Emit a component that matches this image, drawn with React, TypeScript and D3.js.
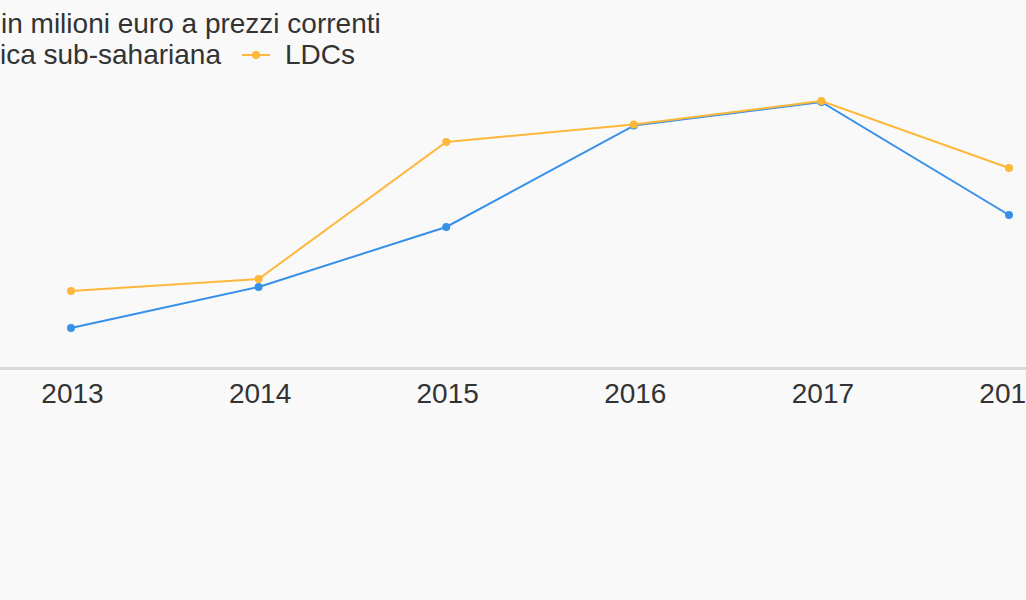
import React from "react";
import * as d3 from "d3";

const years = [2013, 2014, 2015, 2016, 2017, 2018];
const africaValues = [200, 405, 705, 1212, 1330, 765];
const ldcValues = [385, 445, 1130, 1218, 1335, 1000];
const seriesNames = ["Africa sub-sahariana", "LDCs"];
const seriesColors = ["#3790e8", "#fdb83c"];
const title = "in milioni euro a prezzi correnti";

const W = 1026;
const H = 600;

export default function App() {
  const x = d3.scaleLinear().domain([2013, 2018]).range([71, 1009]);
  const y = d3.scaleLinear().domain([0, 1500]).range([368, 68]);
  const line = d3
    .line<number>()
    .x((_, i) => x(years[i]))
    .y((d) => y(d));
  const series = [africaValues, ldcValues];
  const font = "'Liberation Sans', Arial, sans-serif";

  // legend layout
  const legendY = 55;
  const ldcLineX = 242;
  const africaTextEnd = 221;

  return (
    <div style={{ position: "fixed", left: 0, top: 0, width: W, height: H, background: "#f9f9f9" }}>
      <svg width={W} height={H} style={{ display: "block" }} fontFamily={font}>
        <rect width={W} height={H} fill="#f9f9f9" />
        <text x={1} y={33} fontSize={28} fill="#333">
          {title}
        </text>
        {/* legend */}
        <g>
          <line x1={africaTextEnd - 257 - 43} x2={africaTextEnd - 257 - 15} y1={legendY} y2={legendY} stroke={seriesColors[0]} strokeWidth={2} />
          <circle cx={africaTextEnd - 257 - 29} cy={legendY} r={4} fill={seriesColors[0]} />
          <text x={africaTextEnd} y={64} fontSize={28} fill="#333" textAnchor="end">
            {seriesNames[0]}
          </text>
          <line x1={ldcLineX} x2={ldcLineX + 28} y1={legendY} y2={legendY} stroke={seriesColors[1]} strokeWidth={2} />
          <circle cx={ldcLineX + 14} cy={legendY} r={4} fill={seriesColors[1]} />
          <text x={ldcLineX + 43} y={64} fontSize={28} fill="#333">
            {seriesNames[1]}
          </text>
        </g>
        {/* axis */}
        <line x1={0} x2={W} y1={y(0) + 0.5} y2={y(0) + 0.5} stroke="#d9d9d9" strokeWidth={3} />
        {years.map((yr) => (
          <text key={yr} x={x(yr) + 1.5} y={403} fontSize={28} fill="#333" textAnchor="middle">
            {yr}
          </text>
        ))}
        {/* series */}
        {series.map((vals, si) => (
          <g key={si}>
            <path d={line(vals) || ""} fill="none" stroke={seriesColors[si]} strokeWidth={2} />
            {vals.map((v, i) => (
              <circle key={i} cx={x(years[i])} cy={y(v)} r={4} fill={seriesColors[si]} />
            ))}
          </g>
        ))}
      </svg>
    </div>
  );
}
